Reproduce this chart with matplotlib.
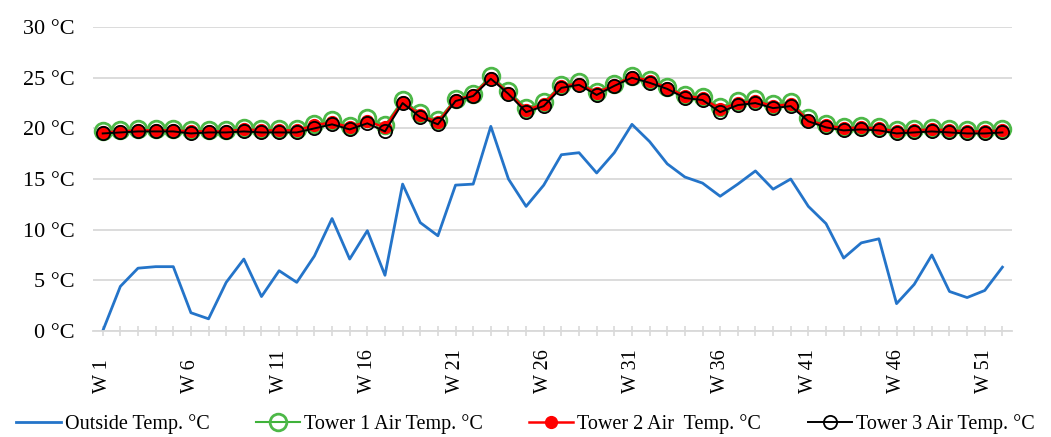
import matplotlib.pyplot as plt
import numpy as np

plt.rcParams['font.family'] = ['Liberation Serif', 'DejaVu Serif']

weeks = np.arange(1, 53)
week_labels = ["W " + str(w) for w in weeks]

outside = [0.0, 4.4, 6.2, 6.35, 6.35, 1.8, 1.2, 4.8, 7.1, 3.4,
           5.95, 4.8, 7.4, 11.1, 7.1, 9.9, 5.5, 14.5, 10.7, 9.4,
           14.4, 14.5, 20.2, 15.0, 12.3, 14.4, 17.4, 17.6, 15.6, 17.6,
           20.4, 18.7, 16.5, 15.2, 14.6, 13.3, 14.5, 15.8, 14.0, 15.0,
           12.3, 10.6, 7.2, 8.7, 9.1, 2.7, 4.6, 7.5, 3.9, 3.3,
           4.0, 6.3]

tower2 = [19.6, 19.7, 19.8, 19.8, 19.8, 19.7, 19.7, 19.7, 19.9, 19.8,
          19.8, 19.8, 20.3, 20.6, 20.1, 20.7, 20.1, 22.6, 21.3, 20.6,
          22.8, 23.3, 25.0, 23.5, 21.8, 22.4, 24.2, 24.4, 23.5, 24.3,
          25.1, 24.7, 24.0, 23.2, 23.0, 21.9, 22.5, 22.7, 22.2, 22.4,
          20.8, 20.3, 20.0, 20.1, 20.0, 19.7, 19.8, 19.9, 19.8, 19.7,
          19.7, 19.8]

tower1 = [19.7, 19.8, 19.9, 19.9, 19.9, 19.8, 19.8, 19.8, 20.0, 19.9,
          19.9, 19.9, 20.4, 20.8, 20.2, 21.0, 20.3, 22.8, 21.5, 20.8,
          22.9, 23.4, 25.2, 23.7, 22.0, 22.6, 24.3, 24.6, 23.6, 24.4,
          25.2, 24.8, 24.1, 23.3, 23.1, 22.1, 22.7, 22.9, 22.4, 22.6,
          21.0, 20.4, 20.1, 20.2, 20.1, 19.8, 19.9, 20.0, 19.9, 19.8,
          19.8, 19.9]

tower3 = [19.5, 19.6, 19.7, 19.7, 19.7, 19.5, 19.6, 19.6, 19.7, 19.6,
          19.6, 19.6, 20.0, 20.4, 19.9, 20.5, 19.7, 22.5, 21.1, 20.4,
          22.7, 23.2, 24.9, 23.4, 21.6, 22.2, 24.0, 24.3, 23.3, 24.2,
          25.0, 24.5, 23.9, 23.0, 22.8, 21.6, 22.3, 22.5, 22.0, 22.2,
          20.7, 20.1, 19.8, 19.9, 19.8, 19.5, 19.6, 19.7, 19.6, 19.5,
          19.5, 19.6]

fig = plt.figure(figsize=(10.51, 4.37), dpi=100)
ax = fig.add_axes([0.0885, 0.2426, 0.8745, 0.6954])

ax.plot(weeks, outside, color='#2474C9', lw=2.0, label='Outside Temp. °C')
ax.plot(weeks, tower1, color='#3FB23A', lw=1.5, marker='o', ms=12,
        mfc='none', mec='#4DB848', mew=2.0, label='Tower 1 Air Temp. °C')
ax.plot(weeks, tower2, color='#FF0000', lw=1.8, marker='o', ms=8.5,
        mfc='#FF0000', mec='#FF0000', label='Tower 2 Air  Temp. °C')
ax.plot(weeks, tower3, color='black', lw=1.4, marker='o', ms=9.5,
        mfc='none', mec='black', mew=1.3, label='Tower 3 Air Temp. °C')

ax.set_ylim(0, 30)
ax.set_xlim(0.45, 52.55)
ax.set_yticks(range(0, 31, 5))
ax.set_yticklabels([str(v) + " °C" for v in range(0, 31, 5)], fontsize=16)
ax.set_xticks(weeks)
ax.set_xticklabels([lab if (w - 1) % 5 == 0 else "" for w, lab in zip(weeks, week_labels)],
                   rotation=90, fontsize=14.5, va='bottom')
ax.grid(axis='y', color='#D9D9D9', lw=1.3)
ax.set_axisbelow(True)
for s in ['top', 'right', 'left']:
    ax.spines[s].set_visible(False)
ax.spines['bottom'].set_color('#D9D9D9')
ax.spines['bottom'].set_linewidth(1.3)
ax.tick_params(axis='y', length=0, pad=13.5)
ax.tick_params(axis='x', direction='inout', length=7, color='#D9D9D9', width=1.2, pad=41)

fig.legend(loc='center', bbox_to_anchor=(0.5, 0.03), ncol=4, frameon=False,
           fontsize=14.5, columnspacing=2.3, handlelength=2.2, handletextpad=0.2)

fig.savefig('out.png', dpi=100)
